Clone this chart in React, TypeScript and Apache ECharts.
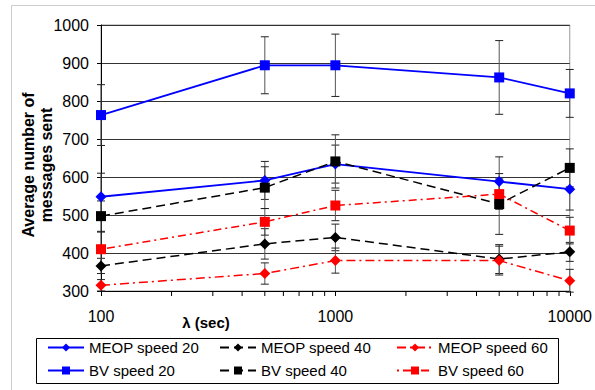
import React, { useEffect, useRef } from "react";
import * as echarts from "echarts";

const lambdas = [100, 500, 1000, 5000, 10000];
const minorTicks = [200, 300, 400, 500, 600, 700, 800, 900, 2000, 3000, 4000, 5000, 6000, 7000, 8000, 9000];

const meop20 = [548, 591, 634, 588, 568];
const bv20 = [763, 894, 894, 862, 820];
const meop40 = [366, 424, 441, 384, 403];
const bv40 = [497, 572, 641, 529, 624];
const meop60 = [315, 346, 380, 380, 327];
const bv60 = [410, 482, 525, 555, 459];

const errMeop20 = [62, 50, 50, 65, 55];
const errBv20 = [80, 75, 82, 97, 63];
const errMeop40 = [20, 40, 35, 38, 25];
const errBv40 = [40, 55, 70, 80, 50];
const errMeop60 = [15, 28, 33, 38, 30];
const errBv60 = [45, 35, 40, 40, 35];

const FONT = "Arial, 'Liberation Sans', sans-serif";

export default function App() {
  const ref = useRef<HTMLDivElement>(null);
  useEffect(() => {
    if (!ref.current) return;
    const chart = echarts.init(ref.current, undefined, { renderer: "svg" });

    const defs = [
      { name: "MEOP speed 20", vals: meop20, err: errMeop20, color: "#0000ff", symbol: "diamond", size: 11, type: "solid" as any },
      { name: "MEOP speed 40", vals: meop40, err: errMeop40, color: "#000000", symbol: "diamond", size: 11, type: [9, 5] },
      { name: "MEOP speed 60", vals: meop60, err: errMeop60, color: "#ff0000", symbol: "diamond", size: 11, type: [9, 4, 2, 4] },
      { name: "BV speed 20", vals: bv20, err: errBv20, color: "#0000ff", symbol: "rect", size: 10, type: "solid" as any },
      { name: "BV speed 40", vals: bv40, err: errBv40, color: "#000000", symbol: "rect", size: 10, type: [9, 5] },
      { name: "BV speed 60", vals: bv60, err: errBv60, color: "#ff0000", symbol: "rect", size: 10, type: [2, 4, 8, 4] },
    ];

    const errorSeries = defs.map((d) => ({
      type: "custom",
      name: d.name + " err",
      z: 1,
      silent: true,
      data: lambdas.map((x, i) => [x, d.vals[i] - d.err[i], d.vals[i] + d.err[i]]),
      renderItem: (params: any, api: any) => {
        const x = api.value(0);
        const lo = api.coord([x, api.value(1)]);
        const hi = api.coord([x, api.value(2)]);
        const w = 4;
        const st = { stroke: "#555", lineWidth: 1 };
        return {
          type: "group",
          children: [
            { type: "line", shape: { x1: lo[0], y1: lo[1], x2: hi[0], y2: hi[1] }, style: st },
            { type: "line", shape: { x1: lo[0] - w, y1: lo[1], x2: lo[0] + w, y2: lo[1] }, style: { stroke: "#222", lineWidth: 1 } },
            { type: "line", shape: { x1: hi[0] - w, y1: hi[1], x2: hi[0] + w, y2: hi[1] }, style: { stroke: "#222", lineWidth: 1 } },
          ],
        };
      },
    }));

    const lineSeries = defs.map((d) => ({
      type: "line",
      name: d.name,
      z: 3,
      data: lambdas.map((x, i) => [x, d.vals[i]]),
      symbol: d.symbol,
      symbolSize: d.size,
      showAllSymbol: true,
      lineStyle: { color: d.color, width: d.color === "#0000ff" ? 1.8 : 1.5, type: d.type },
      itemStyle: { color: d.color },
    }));

    const tickSeries = {
      type: "custom",
      name: "minorTicks",
      silent: true,
      z: 5,
      data: minorTicks.map((x) => [x, 300]),
      renderItem: (params: any, api: any) => {
        const p = api.coord([api.value(0), api.value(1)]);
        return { type: "line", shape: { x1: p[0], y1: p[1], x2: p[0], y2: p[1] + 5 }, style: { stroke: "#000", lineWidth: 1 } };
      },
    };

    const legendPos = [
      { name: "MEOP speed 20", left: 47, top: 340 },
      { name: "MEOP speed 40", left: 219, top: 340 },
      { name: "MEOP speed 60", left: 396, top: 340 },
      { name: "BV speed 20", left: 47, top: 363 },
      { name: "BV speed 40", left: 219, top: 363 },
      { name: "BV speed 60", left: 396, top: 363 },
    ];

    chart.setOption({
      animation: false,
      backgroundColor: "#fff",
      textStyle: { fontFamily: FONT },
      grid: { left: 101, right: 23, top: 25, bottom: 99, show: true, borderColor: "#999", borderWidth: 1 },
      xAxis: {
        type: "log",
        logBase: 10,
        min: 100,
        max: 10000,
        axisLine: { lineStyle: { color: "#000", width: 1 } },
        axisTick: { show: true, length: 5, inside: false, lineStyle: { color: "#000" } },
        axisLabel: { fontSize: 16, color: "#000", margin: 17, fontFamily: FONT, formatter: (v: number) => String(Math.round(v)) },
        splitLine: { show: false },
        minorTick: { show: false },
      },
      yAxis: {
        type: "value",
        min: 300,
        max: 1000,
        interval: 100,
        axisLine: { show: true, lineStyle: { color: "#000", width: 1 } },
        axisTick: { show: true, length: 4, inside: false, lineStyle: { color: "#000" } },
        axisLabel: { fontSize: 16, color: "#000", margin: 12, fontFamily: FONT, formatter: (v: number) => String(v) },
        splitLine: { show: true, lineStyle: { color: "#333", width: 1 } },
      },
      legend: legendPos.map((l) => ({
        data: [l.name],
        left: l.left,
        top: l.top,
        padding: 0,
        itemWidth: 36,
        itemHeight: 10,
        itemGap: 0,
        textStyle: { fontSize: 15, color: "#000", fontFamily: FONT },
      })),
      graphic: [
        { type: "rect", shape: { x: 11.5, y: 5.5, width: 600, height: 400 }, style: { fill: "none", stroke: "#ccc", lineWidth: 1 }, z: -10 },
        { type: "rect", shape: { x: 36.5, y: 338.5, width: 522, height: 45 }, style: { fill: "none", stroke: "#000", lineWidth: 1 } },
        {
          type: "text",
          x: 37,
          y: 165,
          rotation: Math.PI / 2,
          style: {
            text: "Average number of\nmessages sent",
            fontSize: 16,
            fontWeight: "bold",
            fontFamily: FONT,
            fill: "#000",
            textAlign: "center",
            textVerticalAlign: "middle",
            lineHeight: 18,
          },
        },
        {
          type: "text",
          x: 206,
          y: 322,
          style: {
            text: "λ (sec)",
            fontSize: 15,
            fontWeight: "bold",
            fontFamily: FONT,
            fill: "#000",
            textAlign: "center",
            textVerticalAlign: "middle",
          },
        },
      ],
      series: [...errorSeries, ...lineSeries, tickSeries],
    });
    return () => chart.dispose();
  }, []);
  return <div ref={ref} style={{ position: "fixed", left: 0, top: 0, width: 595, height: 390 }} />;
}
